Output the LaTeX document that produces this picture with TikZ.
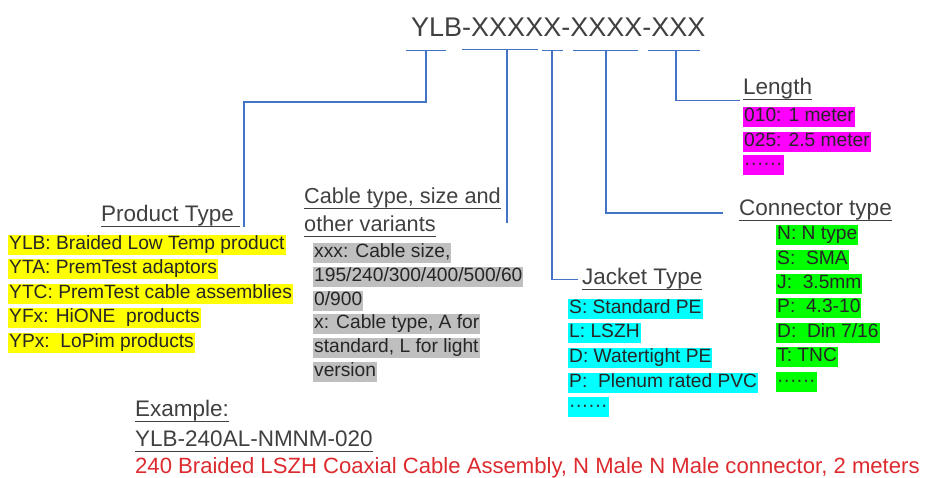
\documentclass[tikz,border=0pt]{standalone}
\usepackage{fontspec}
\setmainfont{Liberation Sans}
\usepackage{tikz}
\usetikzlibrary{positioning}

\definecolor{linkblue}{HTML}{4472C4}
\definecolor{txtgray}{HTML}{404040}
\definecolor{rowtxt}{HTML}{262626}
\definecolor{hlyellow}{HTML}{FFFF00}
\definecolor{hlmagenta}{HTML}{FF00FF}
\definecolor{hlcyan}{HTML}{00FFFF}
\definecolor{hlgreen}{HTML}{00FF00}
\definecolor{hlgray}{HTML}{BFBFBF}
\definecolor{exred}{HTML}{DC2A2E}

\newcommand{\dotrow}{\textperiodcentered\textperiodcentered\textperiodcentered\textperiodcentered\textperiodcentered\textperiodcentered}
\newcommand{\undl}[1]{\leavevmode\setbox0\hbox{#1}\rlap{\rule[-5.6pt]{\wd0}{1.1pt}}\box0}

\begin{document}
\begin{tikzpicture}[x=1pt, y=-1pt,
    lbl/.style={anchor=base west, inner sep=0pt, text=txtgray, font=\fontsize{22.5}{28.5}\selectfont},
    row/.style={anchor=west, fill=#1, text=rowtxt, inner xsep=1pt, inner ysep=0.75pt,
                text height=14pt, text depth=4.5pt, font=\fontsize{19.2}{24}\selectfont},
    conn/.style={draw=linkblue, line width=1.2pt}]
  \useasboundingbox (0,0) rectangle (925,477);

  % part number
  \node (code) at (411,36) [anchor=base west, inner sep=0pt, text=txtgray, font=\fontsize{27}{32}\selectfont] {YLB-XXXXX-XXXX-XXX};

  % brackets under the part number
  \coordinate (b1l) at (406,50.5); \coordinate (b1m) at (426,50.5); \coordinate (b1r) at (446,50.5);
  \coordinate (b2l) at (462,49.5); \coordinate (b2m) at (507,49.5); \coordinate (b2r) at (538,49.5);
  \coordinate (b3l) at (542,50.5); \coordinate (b3m) at (552,50.5); \coordinate (b3r) at (563,50.5);
  \coordinate (b4l) at (573,50.5); \coordinate (b4m) at (606,50.5); \coordinate (b4r) at (638,50.5);
  \coordinate (b5l) at (648,50.5); \coordinate (b5m) at (676,50.5); \coordinate (b5r) at (700,50.5);
  \draw[conn] (b1l) -- (b1r);
  \draw[conn] (b2l) -- (b2r);
  \draw[conn] (b3l) -- (b3r);
  \draw[conn] (b4l) -- (b4r);
  \draw[conn] (b5l) -- (b5r);

  % product type
  \node (ptype) at (101,221.5) [lbl] {\undl{Product Type\ }};
  \node (pt1) at (8,244.5) [row=hlyellow] {YLB: Braided Low Temp product};
  \node (pt2) at (8,269) [row=hlyellow] {YTA: PremTest adaptors};
  \node (pt3) at (8,293.5) [row=hlyellow] {YTC: PremTest cable assemblies};
  \node (pt4) at (8,318) [row=hlyellow] {YFx: HiONE\ \ products};
  \node (pt5) at (8,342.5) [row=hlyellow] {YPx:\ \ LoPim products};

  % cable type and size
  \node (cvar) at (304,231.5) [lbl, align=left, font=\fontsize{21.7}{28.5}\selectfont] {\undl{Cable type, size and}\\\undl{other variants}};
  \node (cv1) at (313,253) [row=hlgray] {xxx: Cable size,};
  \node (cv2) at (313,277) [row=hlgray] {195/240/300/400/500/60};
  \node (cv3) at (313,300.5) [row=hlgray] {0/900};
  \node (cv4) at (313,324) [row=hlgray] {x: Cable type, A for};
  \node (cv5) at (313,348) [row=hlgray] {standard, L for light\ };
  \node (cv6) at (313,372) [row=hlgray] {version};
  \coordinate (e2) at (507,223);

  % jacket
  \node (jtype) at (582,284.5) [lbl] {\undl{Jacket Type}};
  \node (jk1) at (568,309) [row=hlcyan] {S: Standard PE};
  \node (jk2) at (568,333) [row=hlcyan] {L: LSZH};
  \node (jk3) at (568,357.5) [row=hlcyan] {D: Watertight PE};
  \node (jk4) at (568,382.5) [row=hlcyan] {P:\ \ Plenum rated PVC};
  \node (jk5) at (568,407) [row=hlcyan] {\dotrow};

  % connector
  \node (ctype) at (739,215) [lbl] {\undl{Connector type}};
  \node (cn1) at (776,235) [row=hlgreen] {N: N type};
  \node (cn2) at (776,260) [row=hlgreen] {S:\ \ SMA};
  \node (cn3) at (776,283.5) [row=hlgreen] {J:\ \ 3.5mm};
  \node (cn4) at (776,308) [row=hlgreen] {P:\ \ 4.3-10};
  \node (cn5) at (776,332.5) [row=hlgreen] {D:\ \ Din 7/16};
  \node (cn6) at (776,357) [row=hlgreen] {T: TNC};
  \node (cn7) at (776,382) [row=hlgreen] {\dotrow};

  % length
  \node (lngth) at (743,94.5) [lbl] {\undl{Length}};
  \node (ln1) at (743,116.5) [row=hlmagenta] {010: 1 meter};
  \node (ln2) at (743,141.5) [row=hlmagenta] {025: 2.5 meter};
  \node (ln3) at (743,165) [row=hlmagenta] {\dotrow};

  % example
  \node (exhead) at (135,416) [lbl] {\undl{Example:}};
  \node (excode) at (135,446.5) [lbl] {\undl{YLB-240AL-NMNM-020}};
  \node (exdesc) at (135,473) [lbl, text=exred, font=\fontsize{22.1}{26}\selectfont] {240 Braided LSZH Coaxial Cable Assembly, N Male N Male connector, 2 meters};

  % links
  \coordinate (k1) at (244,102);
  \draw[conn] (b1m) |- (k1) -- (k1 |- ptype.south);
  \draw[conn] (b2m) -- (e2);
  \draw[conn] (b3m) |- ([xshift=-4pt]jtype.west);
  \draw[conn] (b4m) |- ([xshift=-16pt, yshift=-3pt]ctype.west);
  \draw[conn] (b5m) |- ([xshift=-3pt]lngth.south west);
\end{tikzpicture}
\end{document}
